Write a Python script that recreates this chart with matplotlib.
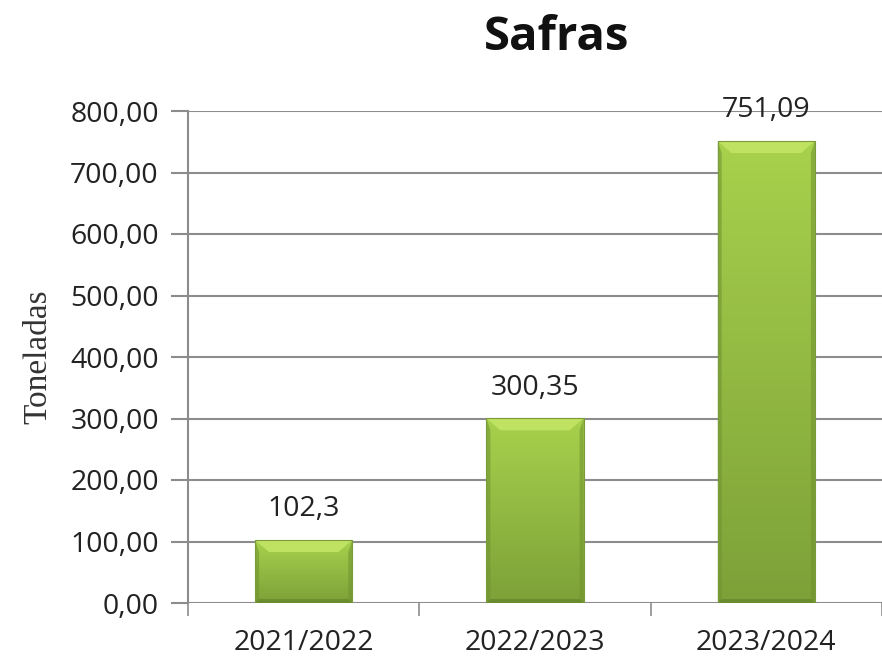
import numpy as np
import matplotlib
matplotlib.use("Agg")
import matplotlib.pyplot as plt
from matplotlib.patches import Rectangle, Polygon

# data
safras = ["2021/2022", "2022/2023", "2023/2024"]
toneladas = [102.3, 300.35, 751.09]
rotulos = ["102,3", "300,35", "751,09"]
y_ticks = [0, 100, 200, 300, 400, 500, 600, 700, 800]

plt.rcParams["font.family"] = ["Open Sans", "DejaVu Sans"]

fig = plt.figure(figsize=(8.82, 6.58), dpi=100)
ax = fig.add_axes([188 / 882, 1 - 603 / 658, 1 - 188 / 882, (603 - 111) / 658])

grid_col = "#8c8c8c"
bar_w = 0.42
x = np.arange(len(safras))

# vertical gradient for the bar body: light top, darker bottom
t = np.linspace(0, 1, 200)[:, None]
top_c = np.array([0.66, 0.82, 0.30])
bot_c = np.array([0.49, 0.63, 0.22])
grad = (bot_c + (top_c - bot_c) * t)[:, None, :]

px_y = 800 / 492   # data units per pixel (y)
px_x = 1 / 232     # data units per pixel (x)

for xi, v, lab in zip(x, toneladas, rotulos):
    x0, x1 = xi - bar_w / 2, xi + bar_w / 2
    ax.imshow(grad, extent=[x0, x1, 0, v], origin="lower", aspect="auto",
              zorder=3, interpolation="bilinear")
    cap_h = 12 * px_y
    cap_w = 14 * px_x
    side = 4 * px_x
    bot = 4 * px_y
    # top bevel
    ax.add_patch(Polygon([[x0, v], [x1, v], [x1 - cap_w, v - cap_h], [x0 + cap_w, v - cap_h]],
                         closed=True, facecolor="#c0e263", edgecolor="none", zorder=4))
    # side bevels
    ax.add_patch(Polygon([[x0, 0], [x0, v], [x0 + side, v - cap_h], [x0 + side, bot]],
                         closed=True, facecolor="#6f9130", edgecolor="none", alpha=0.55, zorder=4))
    ax.add_patch(Polygon([[x1, 0], [x1, v], [x1 - side, v - cap_h], [x1 - side, bot]],
                         closed=True, facecolor="#6f9130", edgecolor="none", alpha=0.55, zorder=4))
    # bottom bevel
    ax.add_patch(Polygon([[x0, 0], [x1, 0], [x1 - side, bot], [x0 + side, bot]],
                         closed=True, facecolor="#5f7f28", edgecolor="none", alpha=0.6, zorder=4))
    ax.add_patch(Rectangle((x0, 0), bar_w, v, facecolor="none",
                           edgecolor="#7b9a3a", lw=0.8, zorder=5))
    ax.annotate(lab, (xi, v), xytext=(0, 12), textcoords="offset points",
                ha="center", va="bottom", fontsize=20.5, color="#222222")

ax.set_xlim(-0.5, len(safras) - 0.5)
ax.set_ylim(0, 800)
ax.set_yticks(y_ticks)
ax.set_yticklabels([f"{v:.2f}".replace(".", ",") for v in y_ticks])
ax.yaxis.grid(True, color=grid_col, lw=1.5)
ax.set_axisbelow(True)

# ticks on category boundaries, labels at centres
ax.set_xticks(np.arange(-0.5, len(safras), 1.0))
ax.set_xticklabels([])
ax.set_xticks(x, minor=True)
ax.set_xticklabels(safras, minor=True)
ax.tick_params(axis="x", which="major", length=9, color=grid_col, width=1.2, direction="out")
ax.tick_params(axis="x", which="minor", length=0, pad=19, labelsize=20.5, labelcolor="#222222")
ax.tick_params(axis="y", length=12, color=grid_col, width=1.5, pad=9,
               labelsize=20.5, labelcolor="#222222")

for s in ["top", "right", "bottom"]:
    ax.spines[s].set_visible(False)
ax.spines["left"].set_color(grid_col)
ax.spines["left"].set_linewidth(1.5)

ax.set_ylabel("Toneladas", family=["Liberation Serif"], fontsize=24, color="#333333", labelpad=12)

fig.text(557 / 882, 1 - 38 / 658, "Safras", ha="center", va="center",
         fontsize=34, fontweight="bold", color="#111111")

fig.savefig("out.png", dpi=100)
